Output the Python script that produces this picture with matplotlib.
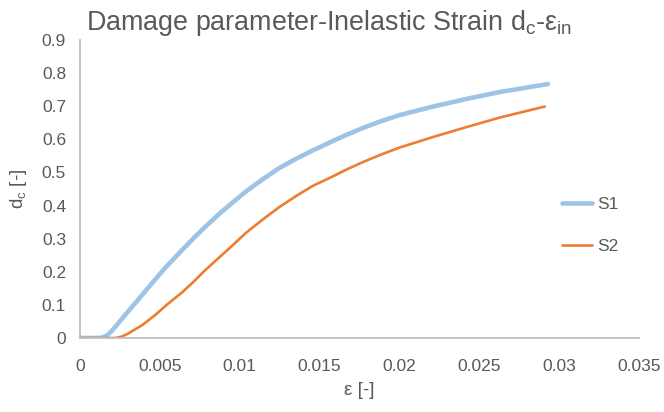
import matplotlib
matplotlib.use("Agg")
import matplotlib.pyplot as plt

plt.rcParams['font.family'] = ['Liberation Sans', 'DejaVu Sans']
plt.rcParams['mathtext.default'] = 'regular'

# Inelastic strain vs. compressive damage parameter for two specimens
s1_strain = [0.0, 0.0010, 0.0014, 0.0017, 0.0020, 0.0028, 0.0037, 0.0045, 0.0053,
             0.0062, 0.0070, 0.0078, 0.0087, 0.0096, 0.0104, 0.0114, 0.0125, 0.0136,
             0.0146, 0.0157, 0.0167, 0.0177, 0.0188, 0.0200, 0.0221, 0.0242, 0.0263,
             0.0293]
s1_damage = [0.0, 0.0, 0.001, 0.008, 0.022, 0.068, 0.119, 0.165, 0.210,
             0.256, 0.296, 0.334, 0.374, 0.411, 0.443, 0.478, 0.514, 0.543,
             0.567, 0.592, 0.614, 0.634, 0.654, 0.673, 0.699, 0.722, 0.743,
             0.767]

s2_strain = [0.0, 0.0022, 0.0026, 0.0030, 0.0039, 0.0047, 0.0055, 0.0064, 0.0072,
             0.0078, 0.0085, 0.0094, 0.0104, 0.0115, 0.0125, 0.0136, 0.0146, 0.0157,
             0.0167, 0.0177, 0.0188, 0.0200, 0.0221, 0.0242, 0.0263, 0.0291]
s2_damage = [0.0, 0.0, 0.004, 0.013, 0.039, 0.069, 0.103, 0.138, 0.174,
             0.203, 0.234, 0.273, 0.318, 0.360, 0.396, 0.431, 0.460, 0.485,
             0.509, 0.531, 0.553, 0.575, 0.607, 0.637, 0.666, 0.699]

series_names = ['S1', 'S2']
x_ticks = [0, 0.005, 0.01, 0.015, 0.02, 0.025, 0.03, 0.035]
x_tick_labels = ['0', '0.005', '0.01', '0.015', '0.02', '0.025', '0.03', '0.035']
y_ticks = [0, 0.1, 0.2, 0.3, 0.4, 0.5, 0.6, 0.7, 0.8, 0.9]
y_tick_labels = ['0', '0.1', '0.2', '0.3', '0.4', '0.5', '0.6', '0.7', '0.8', '0.9']

text_color = '#595959'
axis_color = '#BFBFBF'

fig = plt.figure(figsize=(6.64, 4.12), dpi=100)
ax = fig.add_axes([80 / 664, 1 - 338 / 412, (639 - 80) / 664, (338 - 40) / 412])

ax.plot(s1_strain, s1_damage, color='#9DC3E6', lw=3.3, solid_capstyle='round',
        solid_joinstyle='round', label=series_names[0])
ax.plot(s2_strain, s2_damage, color='#ED7D31', lw=1.9, solid_capstyle='round',
        solid_joinstyle='round', label=series_names[1])

ax.set_xlim(0, 0.035)
ax.set_ylim(0, 0.9)
ax.set_xticks(x_ticks)
ax.set_xticklabels(x_tick_labels)
ax.set_yticks(y_ticks)
ax.set_yticklabels(y_tick_labels)
ax.tick_params(length=0, labelsize=12.5, colors=text_color)
ax.tick_params(axis='x', pad=15)
ax.tick_params(axis='y', pad=10)

for side in ('top', 'right'):
    ax.spines[side].set_visible(False)
for side in ('left', 'bottom'):
    ax.spines[side].set_color(axis_color)
    ax.spines[side].set_linewidth(1.3)

ax.set_xlabel('ε [-]', fontsize=13.5, color=text_color, labelpad=6)
ax.set_ylabel('d$_c$ [-]', fontsize=13.5, color=text_color, labelpad=9)

fig.text(86 / 664, 1 - 30 / 412, 'Damage parameter-Inelastic Strain d$_c$-ε$_{in}$',
         fontsize=19.4, color=text_color, ha='left', va='baseline')

leg = ax.legend(loc='center left', bbox_to_anchor=(0.835, 0.379), frameon=False,
                fontsize=12.5, handlelength=1.7, handletextpad=0.3, labelspacing=1.55)
for t in leg.get_texts():
    t.set_color(text_color)

fig.savefig('out.png', dpi=100)
